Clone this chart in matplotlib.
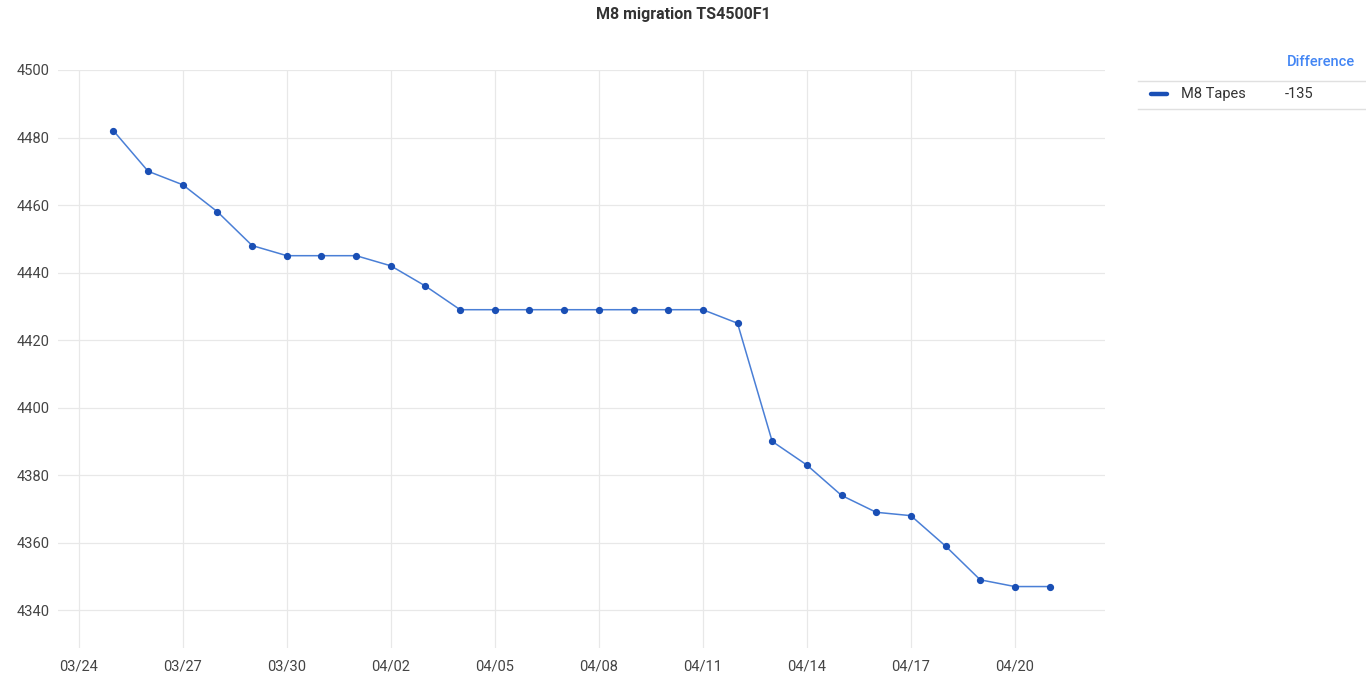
import matplotlib
matplotlib.use("Agg")
import matplotlib.pyplot as plt
import matplotlib.dates as mdates
import numpy as np
import datetime as dt
from matplotlib.lines import Line2D

plt.rcParams['font.family'] = ['Roboto', 'DejaVu Sans']

title = "M8 migration TS4500F1"
series_name = "M8 Tapes"
start_date = dt.date(2024, 3, 25)
values = [4482, 4470, 4466, 4458, 4448, 4445, 4445, 4445, 4442, 4436,
          4429, 4429, 4429, 4429, 4429, 4429, 4429, 4429, 4425, 4390,
          4383, 4374, 4369, 4368, 4359, 4349, 4347, 4347]
dates = [start_date + dt.timedelta(days=i) for i in range(len(values))]
yticks = [4340, 4360, 4380, 4400, 4420, 4440, 4460, 4480, 4500]
difference = values[-1] - values[0]

fig = plt.figure(figsize=(13.66, 6.74), dpi=100)
ax = fig.add_axes([58/1366, 1-648/674, (1105-58)/1366, (648-70)/674])

ax.plot(dates, values, color='#4a7fd6', lw=1.1, marker='o', markersize=4.2,
        markerfacecolor='#1a4fb5', markeredgecolor='#1a4fb5', zorder=3)

ax.set_ylim(4328.8, 4500)
base = mdates.date2num(dt.date(2024, 3, 24))
ax.set_xlim(base - 0.6, base + 29.6)
ax.set_yticks(yticks)
xt = [dt.date(2024, 3, 24) + dt.timedelta(days=3*i) for i in range(10)]
ax.set_xticks([mdates.date2num(d) for d in xt])
ax.xaxis.set_major_formatter(mdates.DateFormatter('%m/%d'))
ax.grid(True, color='#e8e8e8', lw=0.9)
ax.set_axisbelow(True)
for s in ax.spines.values():
    s.set_visible(False)
ax.tick_params(length=0, labelsize=10.5, labelcolor='#444444')
ax.tick_params(axis='y', pad=6)
ax.tick_params(axis='x', pad=8)

fig.text(683/1366, 1-14/674, title, ha='center', va='center', fontsize=11.5,
         fontweight='bold', color='#333333')

# legend table
fig.text(1355/1366, 1-62/674, "Difference", ha='right', va='center', fontsize=10.5,
         color='#4285f4', fontweight='medium')
fig.add_artist(Line2D([1138/1366, 1366/1366], [1-81/674, 1-81/674], color='#e0e0e0', lw=1))
fig.add_artist(Line2D([1151/1366, 1167/1366], [1-94/674, 1-94/674], color='#1a4fb5', lw=3.2,
                      solid_capstyle='round'))
fig.text(1181/1366, 1-94/674, series_name, ha='left', va='center', fontsize=10.5, color='#333333')
fig.text(1285/1366, 1-94/674, f"{difference}", ha='left', va='center', fontsize=10.5, color='#333333')
fig.add_artist(Line2D([1138/1366, 1366/1366], [1-109/674, 1-109/674], color='#e0e0e0', lw=1))

fig.savefig("out.png", dpi=100, facecolor='white')
